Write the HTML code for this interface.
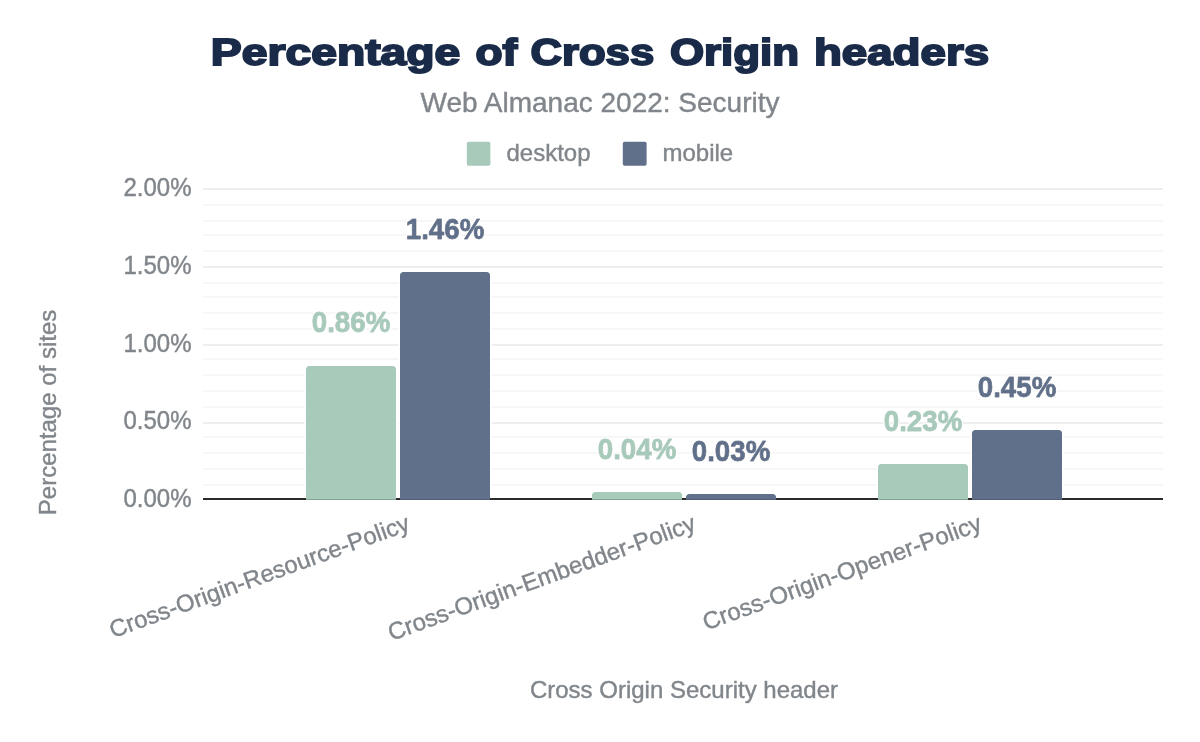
<!DOCTYPE html>
<html lang="en">
<head>
<meta charset="utf-8">
<title>Percentage of Cross Origin headers</title>
<style>
  html, body { margin: 0; padding: 0; background: #ffffff; }
  body { width: 1200px; height: 742px; overflow: hidden; }
  svg { display: block; }
  text { font-family: "Liberation Sans", sans-serif; }
  .title { font-weight: bold; font-size: 37.6px; fill: #1a2b49; stroke: #1a2b49; stroke-width: 1.9px; stroke-linejoin: miter; }
  .subtitle { font-size: 28px; fill: #80868b; stroke: #80868b; stroke-width: 0.4px; }
  .lbl { font-size: 24px; fill: #80868b; stroke: #80868b; stroke-width: 0.4px; }
  .ann { font-size: 27.7px; font-weight: bold; stroke-width: 0.8px; stroke-linejoin: round; }
  .d { fill: #a8cabb; }
  .ann.d { stroke: #a8cabb; }
  .m { fill: #60708b; }
  .ann.m { stroke: #60708b; }
</style>
</head>
<body>
<svg width="1200" height="742" viewBox="0 0 1200 742">
  <defs>
    <filter id="halo" x="-10%" y="-25%" width="120%" height="150%">
      <feMorphology in="SourceAlpha" operator="dilate" radius="1.2" result="fat"/>
      <feFlood flood-color="#ffffff" result="white"/>
      <feComposite in="white" in2="fat" operator="in" result="aura"/>
      <feMerge><feMergeNode in="aura"/><feMergeNode in="SourceGraphic"/></feMerge>
    </filter>
  </defs>
  <rect x="0" y="0" width="1200" height="742" fill="#ffffff"/>

  <!-- title / subtitle -->
  <text id="title" class="title" y="65.4"><tspan x="210.8" textLength="249.5" lengthAdjust="spacingAndGlyphs">Percentage</tspan> <tspan x="475.4" textLength="41.8" lengthAdjust="spacingAndGlyphs">of</tspan> <tspan x="530.4" textLength="123.8" lengthAdjust="spacingAndGlyphs">Cross</tspan> <tspan x="669.9" textLength="129.2" lengthAdjust="spacingAndGlyphs">Origin</tspan> <tspan x="813.9" textLength="175.2" lengthAdjust="spacingAndGlyphs">headers</tspan></text>
  <text id="subtitle" class="subtitle" x="600" y="111.5" text-anchor="middle">Web Almanac 2022: Security</text>

  <!-- legend -->
  <rect x="466.8" y="141.8" width="23.6" height="24" rx="1.8" class="d"/>
  <text id="leg1" class="lbl" x="506.5" y="160.8">desktop</text>
  <rect x="622.8" y="141.8" width="23.8" height="24" rx="1.8" class="m"/>
  <text id="leg2" class="lbl" x="662.5" y="160.8">mobile</text>

  <!-- gridlines -->
  <g id="grid">
    <rect x="203" y="204" width="960" height="2" fill="#f7f7f7"/>
    <rect x="203" y="220" width="960" height="2" fill="#f7f7f7"/>
    <rect x="203" y="234" width="960" height="2" fill="#f7f7f7"/>
    <rect x="203" y="250" width="960" height="2" fill="#f7f7f7"/>
    <rect x="203" y="282" width="960" height="2" fill="#f7f7f7"/>
    <rect x="203" y="296" width="960" height="2" fill="#f7f7f7"/>
    <rect x="203" y="312" width="960" height="2" fill="#f7f7f7"/>
    <rect x="203" y="328" width="960" height="2" fill="#f7f7f7"/>
    <rect x="203" y="358" width="960" height="2" fill="#f7f7f7"/>
    <rect x="203" y="374" width="960" height="2" fill="#f7f7f7"/>
    <rect x="203" y="390" width="960" height="2" fill="#f7f7f7"/>
    <rect x="203" y="406" width="960" height="2" fill="#f7f7f7"/>
    <rect x="203" y="436" width="960" height="2" fill="#f7f7f7"/>
    <rect x="203" y="452" width="960" height="2" fill="#f7f7f7"/>
    <rect x="203" y="468" width="960" height="2" fill="#f7f7f7"/>
    <rect x="203" y="484" width="960" height="2" fill="#f7f7f7"/>
    <rect x="203" y="188" width="960" height="2" fill="#eeeeee"/>
    <rect x="203" y="266" width="960" height="2" fill="#eeeeee"/>
    <rect x="203" y="344" width="960" height="2" fill="#eeeeee"/>
    <rect x="203" y="422" width="960" height="2" fill="#eeeeee"/>
  </g>

  <!-- y labels -->
  <g class="lbl" text-anchor="end">
    <text transform="translate(191.5,195.8) scale(1,1.04)">2.00%</text>
    <text transform="translate(191.5,274.1) scale(1,1.04)">1.50%</text>
    <text transform="translate(191.5,351.7) scale(1,1.04)">1.00%</text>
    <text transform="translate(191.5,429.3) scale(1,1.04)">0.50%</text>
    <text transform="translate(191.5,506.9) scale(1,1.04)">0.00%</text>
  </g>

  <!-- white outline behind bars -->
  <g id="barhalo" fill="none" stroke="#ffffff" stroke-width="3">
    <path d="M306,499.7 V369.5 A3.5,3.5 0 0 1 309.5,366 H392.5 A3.5,3.5 0 0 1 396,369.5 V499.7 Z"/>
    <path d="M400,499.7 V275.5 A3.5,3.5 0 0 1 403.5,272 H486.5 A3.5,3.5 0 0 1 490,275.5 V499.7 Z"/>
    <path d="M592,499.7 V495.5 A3.5,3.5 0 0 1 595.5,492 H678.5 A3.5,3.5 0 0 1 682,495.5 V499.7 Z"/>
    <path d="M686,499.7 V497.5 A3.5,3.5 0 0 1 689.5,494 H772.5 A3.5,3.5 0 0 1 776,497.5 V499.7 Z"/>
    <path d="M878,499.7 V467.5 A3.5,3.5 0 0 1 881.5,464 H964.5 A3.5,3.5 0 0 1 968,467.5 V499.7 Z"/>
    <path d="M972,499.7 V433.5 A3.5,3.5 0 0 1 975.5,430 H1058.5 A3.5,3.5 0 0 1 1062,433.5 V499.7 Z"/>
  </g>

  <!-- axis baseline -->
  <rect x="203" y="498" width="960" height="2" fill="#2b2b2b"/>
  <rect x="203" y="500" width="960" height="3" fill="#ffffff"/>

  <!-- bars -->
  <g id="bars">
    <path class="d" d="M306,499.7 V369.5 A3.5,3.5 0 0 1 309.5,366 H392.5 A3.5,3.5 0 0 1 396,369.5 V499.7 Z"/>
    <path class="m" d="M400,499.7 V275.5 A3.5,3.5 0 0 1 403.5,272 H486.5 A3.5,3.5 0 0 1 490,275.5 V499.7 Z"/>
    <path class="d" d="M592,499.7 V495.5 A3.5,3.5 0 0 1 595.5,492 H678.5 A3.5,3.5 0 0 1 682,495.5 V499.7 Z"/>
    <path class="m" d="M686,499.7 V497.5 A3.5,3.5 0 0 1 689.5,494 H772.5 A3.5,3.5 0 0 1 776,497.5 V499.7 Z"/>
    <path class="d" d="M878,499.7 V467.5 A3.5,3.5 0 0 1 881.5,464 H964.5 A3.5,3.5 0 0 1 968,467.5 V499.7 Z"/>
    <path class="m" d="M972,499.7 V433.5 A3.5,3.5 0 0 1 975.5,430 H1058.5 A3.5,3.5 0 0 1 1062,433.5 V499.7 Z"/>
  </g>

  <!-- bar value annotations -->
  <g id="ann" text-anchor="middle" filter="url(#halo)">
    <text class="ann d" transform="translate(351,332) scale(1,1.045)">0.86%</text>
    <text class="ann m" transform="translate(445,238.6) scale(1,1.045)">1.46%</text>
    <text class="ann d" transform="translate(637,458.6) scale(1,1.045)">0.04%</text>
    <text class="ann m" transform="translate(731,460.6) scale(1,1.045)">0.03%</text>
    <text class="ann d" transform="translate(923,430.6) scale(1,1.045)">0.23%</text>
    <text class="ann m" transform="translate(1017,396.6) scale(1,1.045)">0.45%</text>
  </g>

  <!-- x axis category labels -->
  <g id="xlabels" class="lbl" text-anchor="end">
    <text transform="translate(411.2,529.7) rotate(-20)">Cross-Origin-Resource-Policy</text>
    <text transform="translate(697.2,529.7) rotate(-20)">Cross-Origin-Embedder-Policy</text>
    <text transform="translate(983.2,529.7) rotate(-20)">Cross-Origin-Opener-Policy</text>
  </g>

  <!-- axis titles -->
  <text class="lbl" text-anchor="middle" transform="translate(56,412.5) rotate(-90)">Percentage of sites</text>
  <text class="lbl" text-anchor="middle" x="684" y="697.5">Cross Origin Security header</text>
</svg>
</body>
</html>
